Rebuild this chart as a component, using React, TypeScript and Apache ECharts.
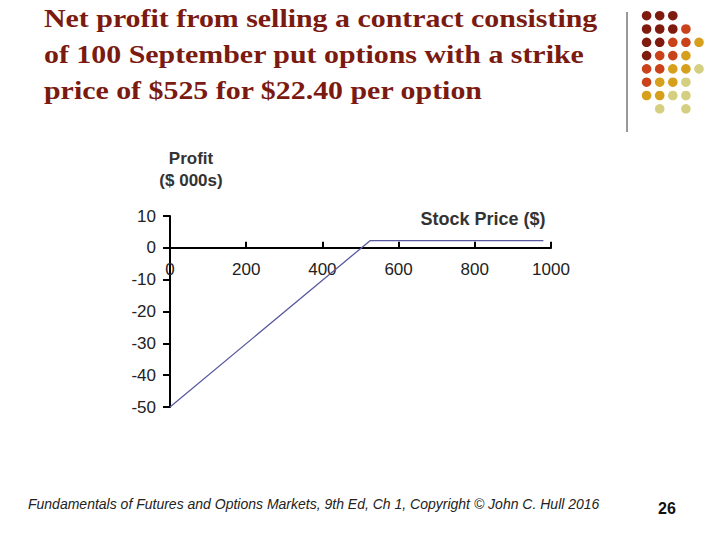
import React, { useEffect, useRef } from "react";
import * as echarts from "echarts";

const titleLines = [
  "Net profit from selling a contract consisting",
  "of 100 September put options with a strike",
  "price of $525 for $22.40 per option",
];
const stockPrices = [0, 525, 980];
const profits = [-50, 2.24, 2.24];
const xTicks = { min: 0, max: 1000, interval: 200 };
const yTicks = { min: -50, max: 10, interval: 10 };
const footer =
  "Fundamentals of Futures and Options Markets, 9th Ed, Ch 1, Copyright © John C. Hull 2016";
const pageNumber = "26";

// decorative dot grid: each row lists colour keys per column ("" = empty)
const dotRows = [
  ["d", "d", "d"],
  ["d", "d", "d", "o"],
  ["d", "d", "o", "o", "g"],
  ["d", "o", "o", "g"],
  ["o", "o", "g", "g", "p"],
  ["o", "g", "g", "p"],
  ["g", "g", "p", "p"],
  ["", "p", "", "p"],
];
const dotColors: Record<string, string> = {
  d: "#7e1a0e",
  o: "#c9421a",
  g: "#d6a01c",
  p: "#d5cf82",
};

export default function App() {
  const ref = useRef<HTMLDivElement>(null);

  useEffect(() => {
    document.body.style.margin = "0";
    const chart = echarts.init(ref.current!, undefined, { renderer: "svg" });

    const gridTop = 216;
    const gridBottom = 133;
    const plotH = 540 - gridTop - gridBottom;
    const zeroOffset = -((0 - yTicks.min) / (yTicks.max - yTicks.min)) * plotH;

    const dots: any[] = [];
    dotRows.forEach((row, j) => {
      row.forEach((k, i) => {
        if (!k) return;
        dots.push({
          type: "circle",
          shape: { cx: 646.6 + i * 13.1, cy: 15.7 + j * 13.3, r: 4.8 },
          style: { fill: dotColors[k] },
          silent: true,
        });
      });
    });

    const titleTexts = titleLines.map((t, i) => ({
      type: "text",
      x: 44,
      y: 5 + i * 36,
      scaleX: 1.15,
      style: {
        text: t,
        fill: "#7a1a10",
        font: "bold 26px 'Liberation Serif', 'Times New Roman', serif",
      },
    }));

    chart.setOption({
      animation: false,
      backgroundColor: "#ffffff",
      grid: { left: 170, right: 169, top: gridTop, bottom: gridBottom, containLabel: false },
      xAxis: {
        type: "value",
        min: xTicks.min,
        max: xTicks.max,
        interval: xTicks.interval,
        offset: zeroOffset,
        axisLine: { onZero: false, lineStyle: { color: "#000", width: 2 } },
        axisTick: { show: true, inside: true, length: 6, lineStyle: { color: "#000", width: 2 } },
        axisLabel: {
          margin: 13,
          color: "#222",
          fontSize: 17,
          fontFamily: "'Liberation Sans', Arial, sans-serif",
          formatter: (v: number) => String(v),
        },
        splitLine: { show: false },
      },
      yAxis: {
        type: "value",
        min: yTicks.min,
        max: yTicks.max,
        interval: yTicks.interval,
        axisLine: { show: true, onZero: false, lineStyle: { color: "#000", width: 2 } },
        axisTick: { show: true, inside: false, length: 7, lineStyle: { color: "#000", width: 2 } },
        axisLabel: {
          margin: 14,
          color: "#222",
          fontSize: 17,
          fontFamily: "'Liberation Sans', Arial, sans-serif",
        },
        splitLine: { show: false },
      },
      series: [
        {
          type: "line",
          data: stockPrices.map((x, i) => [x, profits[i]]),
          symbol: "none",
          lineStyle: { color: "#5a5aa0", width: 1.3 },
          z: 1,
        },
      ],
      graphic: [
        ...titleTexts,
        {
          type: "line",
          shape: { x1: 627, y1: 12, x2: 627, y2: 132 },
          style: { stroke: "#333", lineWidth: 1 },
        },
        ...dots,
        {
          type: "text",
          x: 191,
          y: 158,
          style: {
            text: "Profit",
            fill: "#333",
            align: "center",
            verticalAlign: "middle",
            font: "bold 17px 'Liberation Sans', Arial, sans-serif",
          },
        },
        {
          type: "text",
          x: 191,
          y: 180,
          style: {
            text: "($ 000s)",
            fill: "#333",
            align: "center",
            verticalAlign: "middle",
            font: "bold 17px 'Liberation Sans', Arial, sans-serif",
          },
        },
        {
          type: "text",
          x: 483,
          y: 219,
          style: {
            text: "Stock Price ($)",
            fill: "#333",
            align: "center",
            verticalAlign: "middle",
            font: "bold 18px 'Liberation Sans', Arial, sans-serif",
          },
        },
        {
          type: "text",
          x: 28,
          y: 504,
          style: {
            text: footer,
            fill: "#222",
            verticalAlign: "middle",
            font: "italic 14px 'Liberation Sans', Arial, sans-serif",
          },
        },
        {
          type: "text",
          x: 667,
          y: 508,
          style: {
            text: pageNumber,
            fill: "#111",
            align: "center",
            verticalAlign: "middle",
            font: "bold 16px 'Liberation Sans', Arial, sans-serif",
          },
        },
      ],
    });

    return () => chart.dispose();
  }, []);

  return (
    <div
      ref={ref}
      style={{ position: "absolute", left: 0, top: 0, width: 720, height: 540 }}
    />
  );
}
